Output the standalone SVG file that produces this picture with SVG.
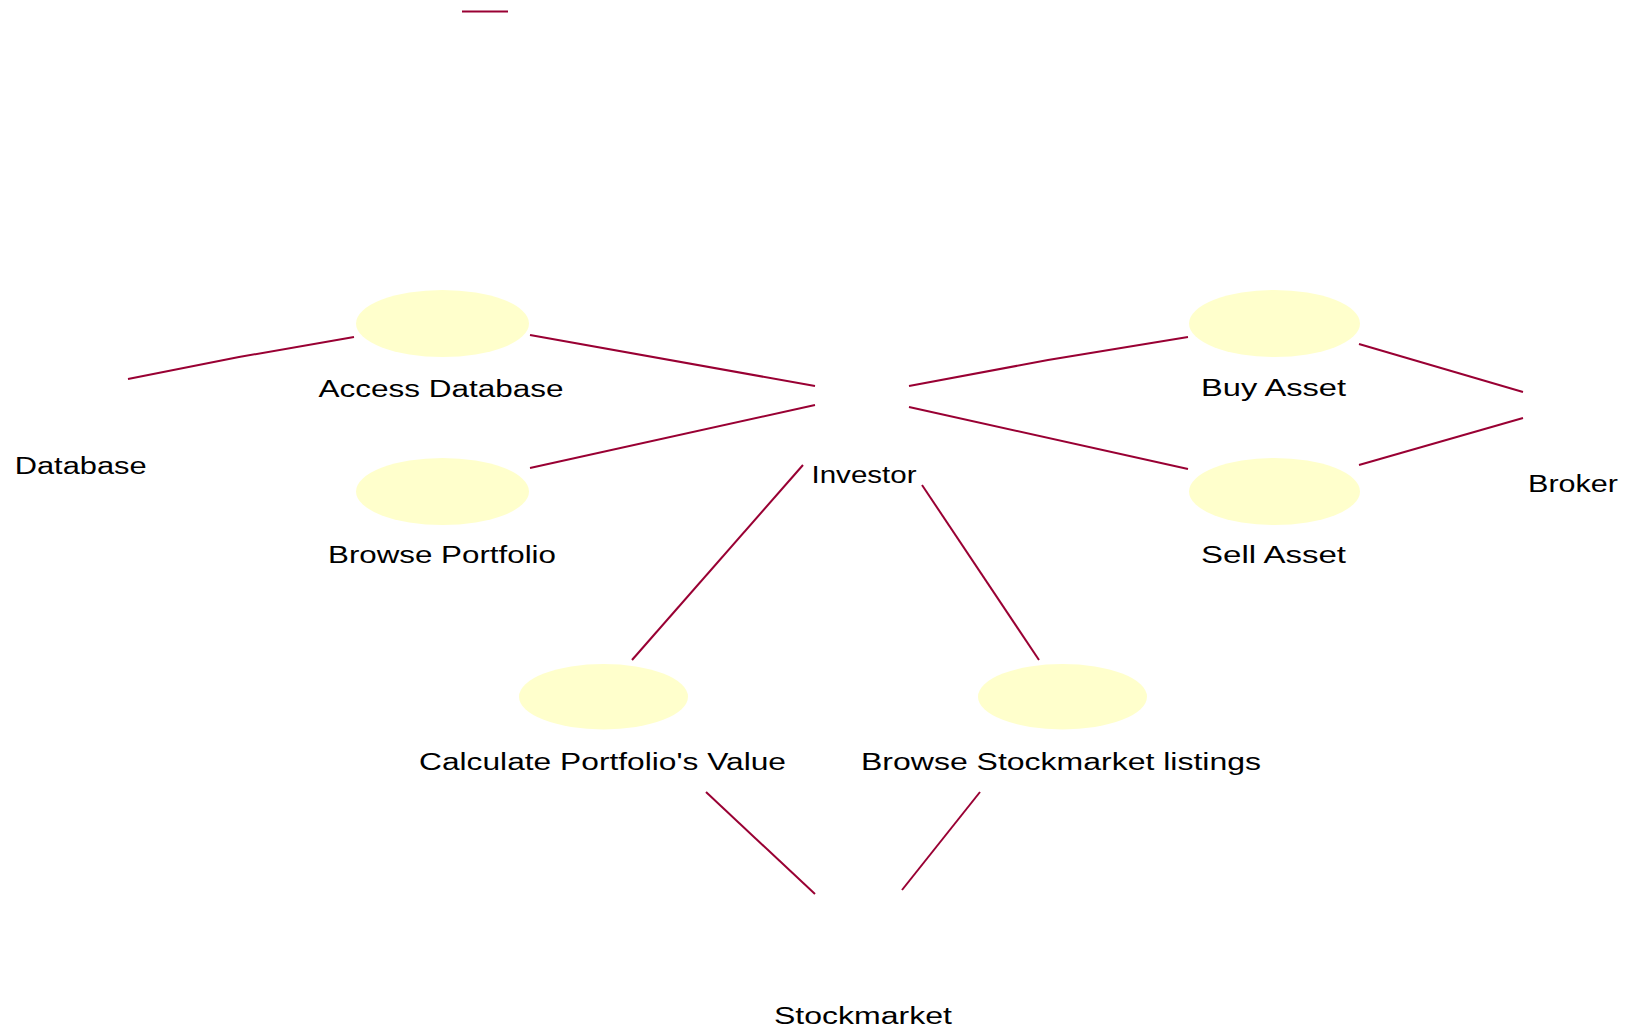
<svg xmlns="http://www.w3.org/2000/svg" width="1632" height="1029" viewBox="0 0 1632 1029">
  <style>
    .uc { fill: #FFFFCC; stroke: none; }
    .assoc { fill: none; stroke: #990033; stroke-width: 2; stroke-linecap: butt; }
    .lbl { font-family: "Liberation Sans", Arial, sans-serif; font-size: 23.5px; fill: #000000; text-anchor: middle; }
  </style>
  <rect x="0" y="0" width="1632" height="1029" fill="#FFFFFF"/>

  <!-- associations between actors and use cases -->
  <g id="connectors">
    <line class="assoc" x1="462" y1="11.5" x2="508" y2="11.5"/>
    <polyline class="assoc" points="128,379 239,357 354,337"/>
    <line class="assoc" x1="530" y1="335" x2="815" y2="386"/>
    <line class="assoc" x1="530" y1="468" x2="815" y2="405"/>
    <polyline class="assoc" points="909,386 1048,360 1188,337"/>
    <line class="assoc" x1="909" y1="407" x2="1188" y2="469"/>
    <line class="assoc" x1="1359" y1="344" x2="1523" y2="392"/>
    <line class="assoc" x1="1359" y1="465" x2="1523" y2="418"/>
    <line class="assoc" x1="803" y1="465" x2="632" y2="660"/>
    <line class="assoc" x1="922" y1="485" x2="1039" y2="660"/>
    <line class="assoc" x1="706" y1="792" x2="815" y2="894"/>
    <line class="assoc" x1="980" y1="792" x2="902" y2="890"/>
  </g>

  <!-- actors -->
  <g id="actor-database">
    <text class="lbl" x="80.7" y="473.5" textLength="132" lengthAdjust="spacingAndGlyphs">Database</text>
  </g>
  <g id="actor-investor">
    <text class="lbl" x="864" y="482.5" textLength="105" lengthAdjust="spacingAndGlyphs">Investor</text>
  </g>
  <g id="actor-broker">
    <text class="lbl" x="1573" y="492" textLength="90" lengthAdjust="spacingAndGlyphs">Broker</text>
  </g>
  <g id="actor-stockmarket">
    <text class="lbl" x="863" y="1024" textLength="178" lengthAdjust="spacingAndGlyphs">Stockmarket</text>
  </g>

  <!-- use cases -->
  <g id="uc-access-database">
    <ellipse class="uc" cx="442.5" cy="323.5" rx="86.5" ry="33.5"/>
    <text class="lbl" x="441" y="396.5" textLength="245" lengthAdjust="spacingAndGlyphs">Access Database</text>
  </g>
  <g id="uc-browse-portfolio">
    <ellipse class="uc" cx="442.5" cy="491.5" rx="86.5" ry="33.5"/>
    <text class="lbl" x="442" y="563" textLength="228" lengthAdjust="spacingAndGlyphs">Browse Portfolio</text>
  </g>
  <g id="uc-buy-asset">
    <ellipse class="uc" cx="1274.5" cy="323.5" rx="85.5" ry="33.5"/>
    <text class="lbl" x="1273.5" y="396" textLength="145" lengthAdjust="spacingAndGlyphs">Buy Asset</text>
  </g>
  <g id="uc-sell-asset">
    <ellipse class="uc" cx="1274.5" cy="491.5" rx="85.5" ry="33.5"/>
    <text class="lbl" x="1273.5" y="563" textLength="145" lengthAdjust="spacingAndGlyphs">Sell Asset</text>
  </g>
  <g id="uc-calculate-value">
    <ellipse class="uc" cx="603.5" cy="696.7" rx="84.5" ry="32.7"/>
    <text class="lbl" x="602.5" y="770" textLength="367" lengthAdjust="spacingAndGlyphs">Calculate Portfolio's Value</text>
  </g>
  <g id="uc-browse-listings">
    <ellipse class="uc" cx="1062.5" cy="696.7" rx="84.5" ry="32.7"/>
    <text class="lbl" x="1061" y="770" textLength="400" lengthAdjust="spacingAndGlyphs">Browse Stockmarket listings</text>
  </g>
</svg>
